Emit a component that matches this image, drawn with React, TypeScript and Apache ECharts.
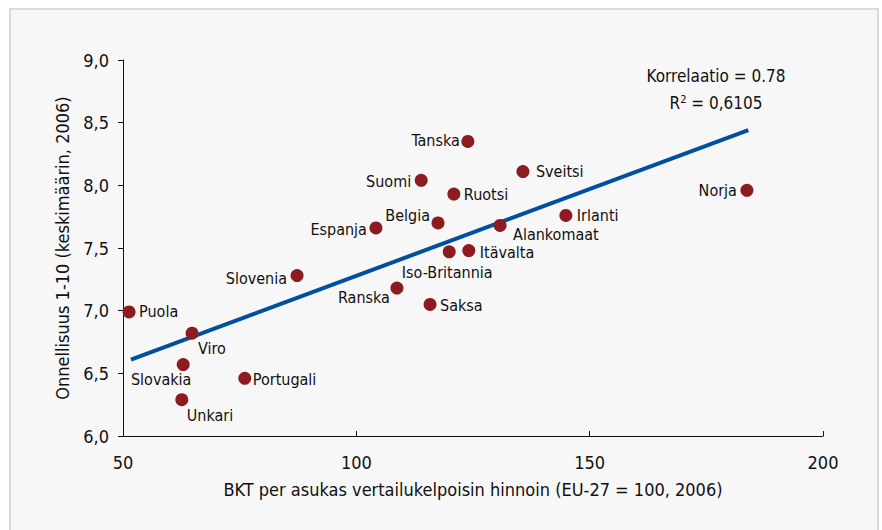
import React, { useEffect, useRef } from "react";
import * as echarts from "echarts";

const countries = [
  "Puola", "Viro", "Slovakia", "Unkari", "Portugali", "Slovenia", "Espanja",
  "Ranska", "Saksa", "Suomi", "Belgia", "Iso-Britannia", "Ruotsi", "Tanska",
  "Itävalta", "Alankomaat", "Sveitsi", "Irlanti", "Norja",
];
const gdp = [
  51.3, 64.8, 62.9, 62.6, 76.1, 87.3, 104.2,
  108.7, 115.8, 113.9, 117.5, 119.9, 120.9, 123.9,
  124.1, 130.8, 135.7, 144.9, 183.7,
];
const happiness = [
  6.99, 6.82, 6.57, 6.29, 6.46, 7.28, 7.66,
  7.18, 7.05, 8.04, 7.70, 7.47, 7.93, 8.35,
  7.48, 7.68, 8.11, 7.76, 7.96,
];
const trendX = [51.7, 184.0];
const trendY = [6.61, 8.44];
const xTicks = [50, 100, 150, 200];
const yTicks = [6.0, 6.5, 7.0, 7.5, 8.0, 8.5, 9.0];

// label placement (style): [dx, dy, align]
const labelPlace: Record<string, [number, number, string]> = {
  Puola: [10, 0, "left"],
  Viro: [6, 15, "left"],
  Slovakia: [-22, 15, "center"],
  Unkari: [5, 16, "left"],
  Portugali: [8, 1, "left"],
  Slovenia: [-10, 3, "right"],
  Espanja: [-9, 2, "right"],
  Ranska: [-7, 9, "right"],
  Saksa: [10, 1, "left"],
  Suomi: [-10, 1, "right"],
  Belgia: [-8, -7, "right"],
  "Iso-Britannia": [-2, 21, "center"],
  Ruotsi: [10, 0, "left"],
  Tanska: [-8, -1, "right"],
  "Itävalta": [11, 2, "left"],
  Alankomaat: [13, 9, "left"],
  Sveitsi: [13, 0, "left"],
  Irlanti: [11, 0, "left"],
  Norja: [-10, 0, "right"],
};

const FONT = "'DejaVu Sans Condensed', 'Liberation Sans Narrow', sans-serif";
const INK = "#111111";

export default function App() {
  const ref = useRef<HTMLDivElement>(null);
  useEffect(() => {
    if (!ref.current) return;
    const chart = echarts.init(ref.current, null, { renderer: "svg" });
    const points = countries.map((c, i) => {
      const p = labelPlace[c];
      return {
        name: c,
        value: [gdp[i], happiness[i]],
        label: {
          show: true,
          formatter: c,
          position: "inside",
          offset: [p[0], p[1]],
          align: p[2],
          verticalAlign: "middle",
          color: INK,
          fontSize: 16,
          fontFamily: FONT,
        },
      };
    });
    chart.setOption({
      animation: false,
      backgroundColor: "#ffffff",
      textStyle: { fontFamily: FONT },
      graphic: [
        {
          type: "rect",
          z: -10,
          shape: { x: 10, y: 9, width: 868, height: 530 },
          style: { fill: "#f7f7f7", stroke: "#dadada", lineWidth: 2 },
        },
        {
          type: "text",
          x: 716,
          y: 76,
          style: {
            text: "Korrelaatio = 0.78",
            align: "center",
            verticalAlign: "middle",
            fontSize: 17,
            fontFamily: FONT,
            fill: INK,
          },
        },
        {
          type: "text",
          x: 716,
          y: 103,
          style: {
            text: "R{sup|2} = 0,6105",
            align: "center",
            verticalAlign: "middle",
            fontSize: 17,
            fontFamily: FONT,
            fill: INK,
            rich: {
              sup: { fontSize: 11, verticalAlign: "top", padding: [0, 0, 8, 0], fontFamily: FONT, fill: INK },
            },
          },
        },
      ],
      grid: { left: 123, right: 59, top: 60, bottom: 94 },
      xAxis: {
        type: "value",
        min: xTicks[0],
        max: xTicks[xTicks.length - 1],
        interval: 50,
        name: "BKT per asukas vertailukelpoisin hinnoin (EU-27 = 100, 2006)",
        nameLocation: "middle",
        nameGap: 44,
        nameTextStyle: { fontSize: 18, color: INK, fontFamily: FONT },
        axisLine: { show: true, lineStyle: { color: INK, width: 1 } },
        axisTick: { show: true, inside: true, length: 5, lineStyle: { color: INK } },
        axisLabel: { fontSize: 18, color: INK, margin: 17, fontFamily: FONT },
        splitLine: { show: false },
      },
      yAxis: {
        type: "value",
        min: yTicks[0],
        max: yTicks[yTicks.length - 1],
        interval: 0.5,
        name: "Onnellisuus 1-10 (keskimäärin, 2006)",
        nameLocation: "middle",
        nameGap: 52,
        nameTextStyle: { fontSize: 18, color: INK, fontFamily: FONT },
        axisLine: { show: true, lineStyle: { color: INK, width: 1 } },
        axisTick: { show: true, inside: false, length: 5, lineStyle: { color: INK } },
        axisLabel: {
          fontSize: 18,
          color: INK,
          margin: 14,
          fontFamily: FONT,
          formatter: (v: number) => v.toFixed(1).replace(".", ","),
        },
        splitLine: { show: false },
      },
      series: [
        {
          type: "line",
          data: trendX.map((x, i) => [x, trendY[i]]),
          symbol: "none",
          lineStyle: { color: "#00509e", width: 4 },
          z: 2,
        },
        {
          type: "scatter",
          data: points,
          symbol: "circle",
          symbolSize: 13,
          itemStyle: { color: "#8e1b20", opacity: 1 },
          z: 3,
        },
      ],
    });
    return () => chart.dispose();
  }, []);
  return (
    <div
      ref={ref}
      style={{ position: "fixed", left: 0, top: 0, width: 882, height: 530 }}
    />
  );
}
